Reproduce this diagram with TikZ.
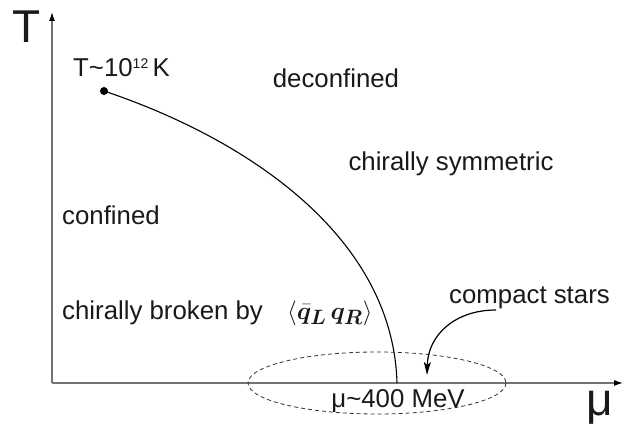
\documentclass[tikz,border=0pt]{standalone}
\usepackage{fontspec}
\setmainfont{Liberation Sans}
\usepackage{bm}
\usetikzlibrary{arrows.meta}
\tikzset{
  axis/.style={draw=black!55, line width=1.2pt, -{Latex[length=9pt,width=6pt,black]}},
  lbl/.style={font=\fontsize{25.8}{29}\selectfont, text=black!90, inner sep=0pt},
  mathlbl/.style={font=\fontsize{28}{32}\selectfont, text=black!90, inner sep=0pt},
  biglbl/.style={font=\fontsize{46}{50}\selectfont, text=black!90, inner sep=0pt},
  phase/.style={draw=black, line width=1.1pt},
  region/.style={draw=black!80, dashed, dash pattern=on 4pt off 3pt, line width=0.8pt},
  pointer/.style={draw=black, line width=1.2pt, -{Stealth[length=13pt,width=7pt,inset=3pt]}}
}
\begin{document}
\begin{tikzpicture}[x=1pt,y=-1pt]
\useasboundingbox (0,0) rectangle (625,430);
\coordinate (O) at (52,383);
\coordinate (Ttip) at (52,12);
\coordinate (Mtip) at (623,383);
\draw[axis] (O) -- (Ttip);
\draw[axis] (O) -- (Mtip);
\node[biglbl] (Tl) at (27,27) {T};
\node[biglbl] (Ml) at (600,408) {μ};
% phase boundary
\coordinate (cp) at (104,91);
\coordinate (end) at (397,383);
\fill (cp) circle (4pt);
\draw[phase] (cp) .. controls (250,140) and (393,238) .. (end);
% region ellipse
\draw[region] (377,383) ellipse (129 and 31);
\node[lbl] (mu) at (398,401) {μ\textasciitilde 400 MeV};
% labels
\node[lbl, anchor=west] (Tc) at (73,68) {T\textasciitilde 10\raisebox{0.6ex}{\fontsize{14}{15}\selectfont 12}\,K};
\node[lbl] (dec) at (336,78) {deconfined};
\node[lbl] (chs) at (451,164) {chirally symmetric};
\node[lbl, anchor=west] (conf) at (62,215) {confined};
\node[lbl, anchor=west] (chb) at (62,313) {chirally broken by};
\node[mathlbl, anchor=west] (qq) at (287,313) {$\langle \bar{\bm q}_{\bm L}\, \bm q_{\bm R}\rangle$};
\node[lbl, anchor=west] (cs) at (449,298) {compact stars};
\coordinate (cstip) at (427,375);
\draw[pointer] (496,310) .. controls (455,310) and (428,335) .. (cstip);
\end{tikzpicture}
\end{document}
